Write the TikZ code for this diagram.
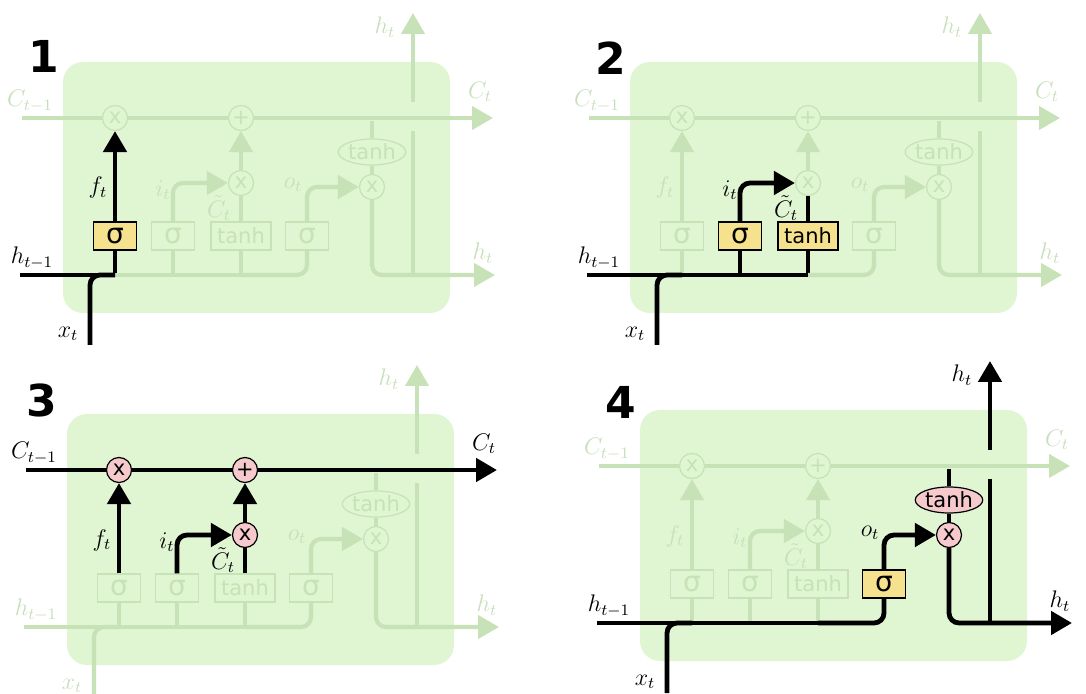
\documentclass[tikz,border=0pt]{standalone}
\usepackage{fontspec}
\usepackage{amsmath}
\usetikzlibrary{arrows.meta,shapes.geometric}
\newfontfamily\gatefont{DejaVu Sans}

\definecolor{cellfill}{RGB}{224,245,210}
\definecolor{fade}{RGB}{199,226,182}
\definecolor{fadetext}{RGB}{199,223,187}
\definecolor{sigyellow}{RGB}{246,226,142}
\definecolor{oppink}{RGB}{246,201,205}

\tikzset{
  wire/.style={draw=fade,line width=2.1pt},
  hot/.style={draw=black,line width=2.4pt},
  tip/.style={-{Triangle[length=10.5pt,width=11.5pt]}},
  gate/.style={rectangle,draw=fade,fill=cellfill,text=fade,line width=0.6pt,
    minimum width=21.5pt,minimum height=14pt,inner sep=0pt,
    font=\gatefont\fontsize{14}{14}\selectfont},
  wide/.style={minimum width=30pt,font=\gatefont\fontsize{10.5}{10.5}\selectfont},
  op/.style={circle,draw=fade,fill=cellfill,text=fade,line width=0.6pt,
    minimum size=12.5pt,inner sep=0pt,font=\gatefont\fontsize{10.5}{10.5}\selectfont},
  squash/.style={ellipse,draw=fade,fill=cellfill,text=fade,line width=0.6pt,
    minimum width=31pt,minimum height=13pt,inner sep=0pt,
    font=\gatefont\fontsize{10.5}{10.5}\selectfont},
  lbl/.style={text=fadetext,font=\large,inner sep=0.5pt},
  hotgate/.style={draw=black,fill=sigyellow,text=black},
  hotop/.style={draw=black,fill=oppink,text=black},
  ink/.style={text=black},
  panelnum/.style={font=\gatefont\bfseries\fontsize{22}{22}\selectfont},
  % hooks, switched on panel by panel
  sfg/.style={}, sig/.style={}, stg/.style={}, sog/.style={},
  fxg/.style={}, addg/.style={}, ixg/.style={}, thg/.style={}, oxg/.style={},
  cellw/.style={}, h1w/.style={}, h2w/.style={}, h3w/.style={}, h4w/.style={},
  fbw/.style={}, ibw/.style={}, tbw/.style={}, xw/.style={},
  fw/.style={}, iw/.style={}, tw/.style={}, aw/.style={}, ow/.style={},
  tapw/.style={}, outw/.style={}, upw/.style={},
  c0l/.style={}, ctl/.style={}, htl/.style={}, hrl/.style={}, h0l/.style={},
  xl/.style={}, fl/.style={}, il/.style={}, ctil/.style={}, ol/.style={}
}

% one LSTM cell, everything faded unless a hook says otherwise
\newcommand\lstmcell[1]{%
  \fill[cellfill,rounded corners=10pt] (63,62) rectangle (450,313);
  \node[gate,sfg] (#1-sf) at (115,236) {σ};
  \node[gate,sig] (#1-si) at (173,236) {σ};
  \node[gate,wide,stg] (#1-st) at (241,236) {tanh};
  \node[gate,sog] (#1-so) at (307,236) {σ};
  \node[op,fxg] (#1-fx) at (115,118) {x};
  \node[op,addg] (#1-add) at (241,118) {+};
  \node[op,ixg] (#1-ix) at (241,183) {x};
  \node[squash,thg] (#1-th) at (372,152) {tanh};
  \node[op,oxg] (#1-ox) at (372,187) {x};
  \coordinate (#1-cin) at (22,118);
  \coordinate (#1-cout) at (493,118);
  \coordinate (#1-hin) at (20,275);
  \coordinate (#1-hout) at (495,275);
  \coordinate (#1-xin) at (90,345);
  \coordinate (#1-hf) at (115,275);
  \coordinate (#1-hi) at (173,275);
  \coordinate (#1-ht) at (241,275);
  \coordinate (#1-tap) at (372,121);
  \coordinate (#1-hj) at (413,275);
  \coordinate (#1-gap) at (413,131);
  \coordinate (#1-gapt) at (413,102);
  \coordinate (#1-htop) at (413,13);
  % wires
  \draw[wire,cellw,tip] (#1-cin) -- (#1-fx) -- (#1-add) -- (#1-cout);
  \draw[wire,fbw] (#1-sf) -- (#1-hf);
  \draw[wire,ibw] (#1-si) -- (#1-hi);
  \draw[wire,tbw] (#1-st) -- (#1-ht);
  \draw[wire,h4w,rounded corners=5pt] (#1-ht) -| (#1-so);
  \draw[wire,h3w] (#1-hi) -- (#1-ht);
  \draw[wire,h2w] (#1-hf) -- (#1-hi);
  \draw[wire,h1w] (#1-hin) -- (#1-hf);
  \draw[wire,xw,rounded corners=5pt] (#1-xin) |- (#1-hf);
  \draw[wire,fw,tip] (#1-sf) -- (#1-fx);
  \draw[wire,iw,tip,rounded corners=5pt] (#1-si) |- (#1-ix);
  \draw[wire,tw] (#1-st) -- (#1-ix);
  \draw[wire,aw,tip] (#1-ix) -- (#1-add);
  \draw[wire,ow,tip,rounded corners=5pt] (#1-so) |- (#1-ox);
  \draw[wire,tapw] (#1-tap) -- (#1-th) -- (#1-ox);
  \draw[wire,outw,tip,rounded corners=5pt] (#1-ox) |- (#1-hout);
  \draw[wire,upw] (#1-hj) -- (#1-gap);
  \draw[wire,upw,tip] (#1-gapt) -- (#1-htop);
  % labels
  \node[lbl,c0l] (#1-lc0) at (30,101) {$C_{t-1}$};
  \node[lbl,ctl] (#1-lct) at (480,92) {$C_t$};
  \node[lbl,htl] (#1-lht) at (385,27) {$h_t$};
  \node[lbl,hrl] (#1-lhr) at (483,253) {$h_t$};
  \node[lbl,h0l] (#1-lh0) at (32,258) {$h_{t-1}$};
  \node[lbl,xl] (#1-lx) at (68,334) {$x_t$};
  \node[lbl,fl] (#1-lf) at (98,188) {$f_t$};
  \node[lbl,il] (#1-li) at (163,190) {$i_t$};
  \node[lbl,ctil] (#1-lcti) at (219,208) {$\tilde{C}_t$};
  \node[lbl,ol] (#1-lo) at (293,185) {$o_t$};
}

\begin{document}
\begin{tikzpicture}[x=0.5pt,y=-0.5pt]
\useasboundingbox (0,0) rectangle (1086,694);
\clip (0,0) rectangle (1086,694);

% forget gate
\begin{scope}[sfg/.style=hotgate, h1w/.style=hot, fbw/.style=hot, xw/.style=hot,
  fw/.style=hot, h0l/.style=ink, xl/.style=ink, fl/.style=ink]
\lstmcell{p1}
\node[panelnum] (p1-num) at (44,56) {1};
\end{scope}

% input gate and candidate
\begin{scope}[shift={(567,0)}, sig/.style=hotgate, stg/.style=hotgate,
  h1w/.style=hot, h2w/.style=hot, h3w/.style=hot, ibw/.style=hot, tbw/.style=hot,
  xw/.style=hot, iw/.style=hot, tw/.style=hot,
  h0l/.style=ink, xl/.style=ink, il/.style=ink, ctil/.style=ink]
\lstmcell{p2}
\node[panelnum] (p2-num) at (44,58) {2};
\end{scope}

% cell state update
\begin{scope}[shift={(4,352)}, fxg/.style=hotop, addg/.style=hotop, ixg/.style=hotop,
  cellw/.style=hot, fw/.style=hot, iw/.style=hot, tw/.style=hot, aw/.style=hot,
  c0l/.style=ink, ctl/.style=ink, fl/.style=ink, il/.style=ink, ctil/.style=ink]
\lstmcell{p3}
\node[panelnum] (p3-num) at (38,48) {3};
\end{scope}

% output gate
\begin{scope}[shift={(577,348)}, sog/.style=hotgate, thg/.style=hotop, oxg/.style=hotop,
  h1w/.style=hot, h2w/.style=hot, h3w/.style=hot, h4w/.style=hot, xw/.style=hot,
  ow/.style=hot, tapw/.style=hot, outw/.style=hot, upw/.style=hot,
  htl/.style=ink, hrl/.style=ink, h0l/.style=ink, xl/.style=ink, ol/.style=ink]
\lstmcell{p4}
\node[panelnum] (p4-num) at (44,54) {4};
\end{scope}
\end{tikzpicture}
\end{document}
